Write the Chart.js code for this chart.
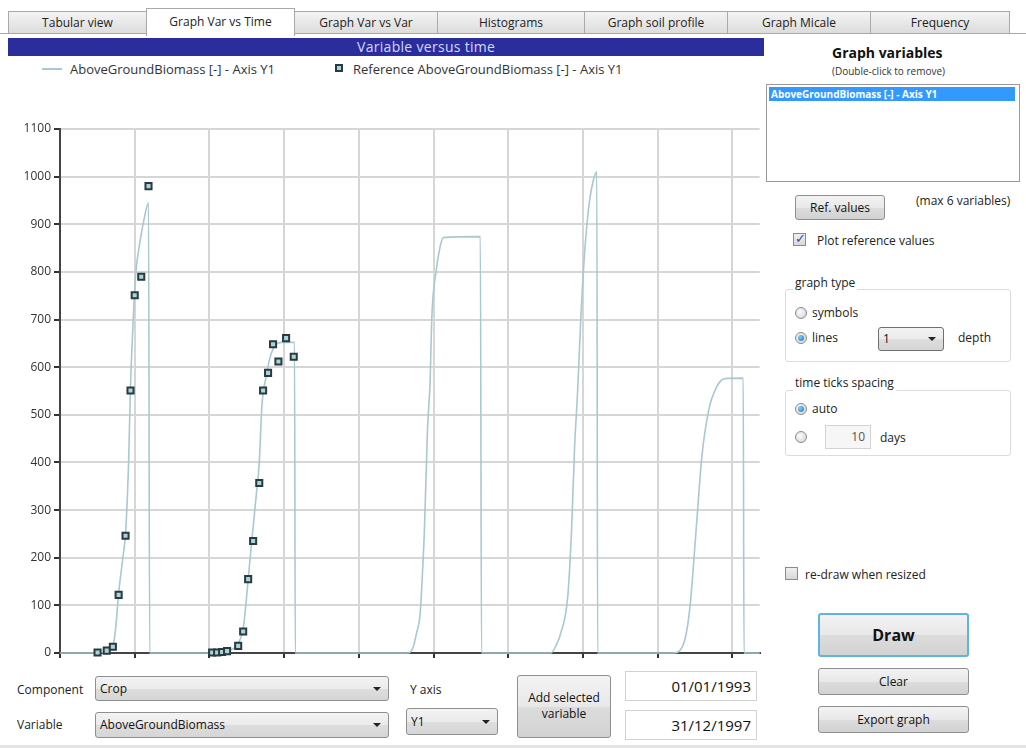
<!DOCTYPE html>
<html>
<head>
<meta charset="utf-8">
<script src="https://cdn.jsdelivr.net/npm/chart.js@4/dist/chart.umd.min.js"></script>
<style>
  html, body { margin: 0; padding: 0; background: #ffffff; }
  body { width: 1026px; height: 748px; position: relative; overflow: hidden;
         font-family: "Open Sans", "DejaVu Sans", sans-serif; font-size: 12px; color: #222; }
  .abs { position: absolute; }
  .tab { position: absolute; top: 11px; height: 22px; line-height: 22px; text-align: center;
         background: linear-gradient(#f4f4f4, #dcdcdc); border: 1px solid #a9a9a9; border-bottom: none;
         font-size: 12px; color: #222; box-sizing: border-box; }
  .tab.sel { top: 8px; height: 28px; line-height: 26px; background: #fff; z-index: 2; }
  .btn { position: absolute; box-sizing: border-box; border: 1px solid #8e8f8f; border-radius: 3px;
         background: linear-gradient(#f3f3f3 0%, #e8e8e8 50%, #dcdcdc 51%, #d2d2d2 100%);
         text-align: center; font-size: 12px; color: #111; }
  .combo { position: absolute; box-sizing: border-box; border: 1px solid #8e8f8f; border-radius: 3px;
           background: linear-gradient(#f3f3f3 0%, #ebebeb 50%, #dddddd 51%, #d6d6d6 100%);
           font-size: 12px; padding-left: 4px; color: #111; }
  .combo .arr { position: absolute; right: 7px; top: 50%; margin-top: -2px; width: 0; height: 0;
                border-left: 4px solid transparent; border-right: 4px solid transparent; border-top: 4px solid #222; }
  .tbox { position: absolute; box-sizing: border-box; border: 1px solid #d2d2d2; background: #fff;
          text-align: right; padding-right: 5px; font-size: 15px; color: #111; }
  .radio { position: absolute; width: 12px; height: 12px; border-radius: 50%; box-sizing: border-box;
           border: 1px solid #8a8a8a; background: radial-gradient(circle at 40% 40%, #fbfbfb, #d0d0d0); }
  .radio.on::after { content: ""; position: absolute; left: 2px; top: 2px; width: 6px; height: 6px; border-radius: 50%;
                     background: radial-gradient(circle at 35% 35%, #7fd0ff, #1a6fb8); }
  .chk { position: absolute; width: 13px; height: 13px; box-sizing: border-box; border: 1px solid #8a8a8a;
         background: linear-gradient(#f0f0f0, #d8d8d8); }
  .group { position: absolute; box-sizing: border-box; border: 1px solid #dcdcdc; border-radius: 3px; }
  .glabel { position: absolute; background: #fff; padding: 0 2px; font-size: 12px; color: #222; }
  .lbl { position: absolute; font-size: 12px; color: #222; white-space: nowrap; }
</style>
</head>
<body>

<!-- tab strip -->
<div class="abs" style="left:0;top:33px;width:1026px;height:1px;background:#a9a9a9"></div>
<div class="tab" style="left:8px;width:139px">Tabular view</div>
<div class="tab sel" style="left:146px;width:149px">Graph Var vs Time</div>
<div class="tab" style="left:294px;width:144px">Graph Var vs Var</div>
<div class="tab" style="left:437px;width:148px">Histograms</div>
<div class="tab" style="left:584px;width:144px">Graph soil profile</div>
<div class="tab" style="left:727px;width:144px">Graph Micale</div>
<div class="tab" style="left:870px;width:140px">Frequency</div>

<!-- chart title bar -->
<div class="abs" style="left:8px;top:38px;width:756px;height:18px;background:#2b2d9c"></div>
<div class="abs" style="left:357px;top:37px;font-size:14px;line-height:20px;color:#d4daff;letter-spacing:0.3px">Variable versus time</div>

<!-- legend -->
<div class="abs" style="left:42px;top:68px;width:20px;height:2px;background:#a9c8d0"></div>
<div class="lbl" style="left:70px;top:60px;font-size:13px;color:#333">AboveGroundBiomass [-] - Axis Y1</div>
<div class="abs" style="left:335px;top:64px;width:8px;height:8px;box-sizing:border-box;border:2px solid #2b3a3f;background:#a8d4dc"></div>
<div class="lbl" style="left:353px;top:60px;font-size:13px;color:#333">Reference AboveGroundBiomass [-] - Axis Y1</div>

<!-- chart -->
<div class="abs" style="left:0;top:96px;width:766px;height:570px">
  <canvas id="chart" width="766" height="570"></canvas>
</div>

<!-- right panel -->
<div class="lbl" style="left:832px;top:43px;font-size:14px;font-weight:bold;color:#111">Graph variables</div>
<div class="lbl" style="left:832px;top:64px;font-size:10px;color:#333">(Double-click to remove)</div>
<div class="abs" style="left:766px;top:84px;width:254px;height:98px;box-sizing:border-box;border:1px solid #9a9a9a;background:#fff"></div>
<div class="lbl" style="left:769px;top:87px;width:246px;height:14px;background:#3399ff;color:#fff;font-size:10px;font-weight:bold;line-height:14px;padding-left:2px;box-sizing:border-box">AboveGroundBiomass [-] - Axis Y1</div>

<div class="btn" style="left:795px;top:195px;width:90px;height:25px;line-height:23px">Ref. values</div>
<div class="lbl" style="left:916px;top:192px">(max 6 variables)</div>
<div class="chk" style="left:793px;top:233px"></div>
<div class="lbl" style="left:795px;top:229px;font-size:13px;color:#2a4fb0">&#10003;</div>
<div class="lbl" style="left:817px;top:232px">Plot reference values</div>

<div class="group" style="left:785px;top:289px;width:226px;height:73px"></div>
<div class="glabel" style="left:793px;top:274px">graph type</div>
<div class="radio" style="left:795px;top:307px"></div>
<div class="lbl" style="left:812px;top:304px">symbols</div>
<div class="radio on" style="left:795px;top:332px"></div>
<div class="lbl" style="left:812px;top:329px">lines</div>
<div class="combo" style="left:878px;top:327px;width:66px;height:24px;line-height:22px;border-color:#6f6f6f">1<span class="arr"></span></div>
<div class="lbl" style="left:958px;top:329px">depth</div>

<div class="group" style="left:785px;top:390px;width:226px;height:66px"></div>
<div class="glabel" style="left:793px;top:374px">time ticks spacing</div>
<div class="radio on" style="left:795px;top:403px"></div>
<div class="lbl" style="left:812px;top:400px">auto</div>
<div class="radio" style="left:795px;top:431px"></div>
<div class="tbox" style="left:825px;top:425px;width:46px;height:24px;line-height:22px;font-size:12px;color:#555;background:#f6f6f6">10</div>
<div class="lbl" style="left:880px;top:429px">days</div>

<div class="chk" style="left:785px;top:567px"></div>
<div class="lbl" style="left:805px;top:566px">re-draw when resized</div>

<div class="btn" style="left:818px;top:613px;width:151px;height:44px;line-height:40px;border:2px solid #5fb4e0;font-size:16px;font-weight:bold">Draw</div>
<div class="btn" style="left:818px;top:668px;width:151px;height:27px;line-height:25px">Clear</div>
<div class="btn" style="left:818px;top:706px;width:151px;height:27px;line-height:25px">Export graph</div>

<!-- bottom controls -->
<div class="lbl" style="left:17px;top:681px">Component</div>
<div class="combo" style="left:95px;top:676px;width:294px;height:25px;line-height:23px">Crop<span class="arr"></span></div>
<div class="lbl" style="left:17px;top:716px">Variable</div>
<div class="combo" style="left:95px;top:712px;width:294px;height:26px;line-height:24px">AboveGroundBiomass<span class="arr"></span></div>
<div class="lbl" style="left:410px;top:681px">Y axis</div>
<div class="combo" style="left:406px;top:708px;width:92px;height:27px;line-height:25px">Y1<span class="arr"></span></div>
<div class="btn" style="left:517px;top:675px;width:94px;height:63px;padding-top:14px;line-height:16px">Add selected<br>variable</div>
<div class="tbox" style="left:625px;top:671px;width:132px;height:30px;line-height:28px">01/01/1993</div>
<div class="tbox" style="left:625px;top:710px;width:132px;height:30px;line-height:28px">31/12/1997</div>
<div class="abs" style="left:0;top:745px;width:1026px;height:3px;background:#e4e4e4"></div>

<script>
// Simulated above-ground biomass, days since 01/01/1993
const simDays = [0, 91, 117, 130, 138, 145, 153, 164, 171, 179, 184, 190, 197, 208, 218, 231, 234,
                 390, 421, 442, 457, 468, 478, 486, 494, 501, 512, 520, 527, 538, 548, 561, 577, 612, 614,
                 909, 922, 930, 940, 946, 951, 959, 966, 970, 982, 992, 1000, 1097, 1100,
                 1281, 1294, 1307, 1325, 1335, 1343, 1351, 1359, 1369, 1381, 1392, 1401, 1403,
                 1600, 1628, 1644, 1662, 1675, 1693, 1714, 1735, 1783, 1785, 1826];
const simValues = [0, 0, 2, 6, 14, 50, 125, 200, 250, 400, 560, 680, 790, 860, 905, 945, 0,
                   0, 2, 6, 12, 25, 50, 110, 180, 240, 330, 400, 520, 580, 620, 645, 652, 652, 0,
                   0, 13, 40, 84, 170, 258, 468, 573, 699, 804, 853, 872, 874, 0,
                   0, 15, 42, 118, 258, 433, 552, 699, 839, 944, 993, 1010, 0,
                   0, 21, 97, 279, 412, 510, 559, 576, 577, 0, 0];

// Observed reference biomass
const refDays = [98, 122, 138, 153, 171, 184, 195, 212, 231,
                 397, 410, 423, 436, 465, 478, 491, 504, 520, 530, 543, 556, 570, 590, 610];
const refValues = [1, 5, 13, 122, 246, 551, 751, 790, 980,
                   1, 1, 2, 4, 15, 45, 155, 235, 357, 551, 588, 648, 612, 661, 622];

// Axis ticks
const xTickDays = [0, 195, 390, 585, 780, 975, 1170, 1365, 1560, 1755];
const yTicks = [0, 100, 200, 300, 400, 500, 600, 700, 800, 900, 1000, 1100];

const pts = (xs, ys) => xs.map((x, i) => ({ x: x, y: ys[i] }));

new Chart(document.getElementById('chart'), {
  type: 'line',
  data: {
    datasets: [
      {
        label: 'AboveGroundBiomass [-] - Axis Y1',
        data: pts(simDays, simValues),
        borderColor: '#a9c8d0',
        borderWidth: 1.6,
        pointRadius: 0,
        cubicInterpolationMode: 'monotone',
        clip: false,
        order: 2
      },
      {
        label: 'Reference AboveGroundBiomass [-] - Axis Y1',
        data: pts(refDays, refValues),
        showLine: false,
        pointStyle: 'rect',
        pointRadius: 4.3,
        pointBorderWidth: 2,
        pointBorderColor: '#2b3a3f',
        pointBackgroundColor: '#a8d4dc',
        clip: false,
        order: 1
      }
    ]
  },
  options: {
    responsive: false,
    animation: false,
    layout: { padding: { top: 33, right: 3, bottom: 0, left: 0 } },
    plugins: { legend: { display: false }, tooltip: { enabled: false } },
    scales: {
      x: {
        type: 'linear',
        min: 0,
        max: 1826,
        afterBuildTicks: (s) => { s.ticks = xTickDays.map(v => ({ value: v })); },
        afterFit: (s) => { s.height = 13; },
        ticks: { display: false },
        grid: { color: '#d6d6d6', lineWidth: 2, tickColor: '#333', tickLength: 5 },
        border: { color: '#444', width: 2 }
      },
      y: {
        min: 0,
        max: 1100,
        afterBuildTicks: (s) => { s.ticks = yTicks.map(v => ({ value: v })); },
        afterFit: (s) => { s.width = 60; },
        ticks: { color: '#333', font: { family: 'Open Sans', size: 12 }, padding: 3,
                 callback: (v) => String(v) },
        grid: { color: '#d6d6d6', lineWidth: 2, tickColor: '#333', tickLength: 6 },
        border: { color: '#444', width: 2 }
      }
    }
  }
});
</script>
</body>
</html>
